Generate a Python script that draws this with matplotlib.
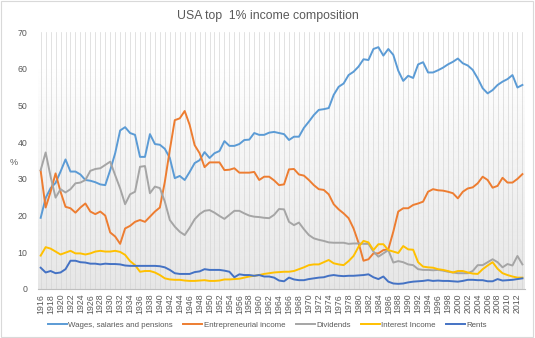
import numpy as np
import matplotlib
matplotlib.use('Agg')
import matplotlib.pyplot as plt
from matplotlib.patches import Rectangle

plt.rcParams['font.family'] = ['Liberation Sans', 'DejaVu Sans']

years = list(range(1916, 2014))

wages = [19.4, 24.8, 27.5, 28.9, 32.0, 35.3, 32.0, 32.0, 31.2, 29.7,
         29.5, 29.1, 28.5, 28.3, 32.4, 37.0, 43.2, 44.1, 42.5, 42.0,
         36.0, 36.0, 42.2, 39.5, 39.3, 38.2, 35.7, 30.2, 30.8, 29.7,
         31.9, 34.3, 35.1, 37.3, 35.7, 37.0, 37.6, 40.3, 39.0, 39.0,
         39.5, 40.6, 40.7, 42.5, 42.0, 42.0, 42.6, 42.8, 42.5, 42.2,
         40.6, 41.5, 41.5, 43.9, 45.6, 47.4, 48.8, 49.0, 49.3, 52.9,
         55.1, 56.0, 58.3, 59.2, 60.6, 62.6, 62.4, 65.4, 65.9, 63.6,
         65.4, 63.8, 59.5, 56.7, 58.1, 57.5, 61.2, 61.8, 59.0, 59.0,
         59.6, 60.3, 61.2, 61.9, 62.8, 61.5, 60.9, 59.7, 57.4, 54.7,
         53.3, 54.2, 55.6, 56.5, 57.2, 58.3, 54.9, 55.6]

entrepreneurial = [32.2, 22.2, 26.5, 31.5, 26.5, 22.4, 22.0, 20.8, 22.2, 23.3,
                   21.1, 20.4, 21.1, 20.0, 15.4, 14.3, 12.3, 16.5, 17.2, 18.3,
                   18.8, 18.3, 19.7, 21.1, 22.2, 29.2, 37.9, 46.0, 46.5, 48.5,
                   44.7, 39.2, 37.0, 33.2, 34.5, 34.5, 34.5, 32.4, 32.5, 32.9,
                   31.7, 31.7, 31.7, 31.9, 29.7, 30.6, 30.6, 29.6, 28.3, 28.5,
                   32.6, 32.7, 31.2, 30.9, 29.7, 28.3, 27.2, 27.0, 25.8, 23.1,
                   21.7, 20.6, 19.3, 16.5, 12.6, 7.7, 8.1, 9.7, 9.7, 10.6,
                   10.8, 15.6, 21.1, 22.0, 22.0, 22.9, 23.3, 23.8, 26.5, 27.2,
                   26.9, 26.8, 26.5, 26.1, 24.7, 26.5, 27.4, 27.7, 28.8, 30.6,
                   29.7, 27.6, 28.1, 30.3, 29.0, 29.0, 30.0, 31.3]

dividends = [32.4, 37.2, 30.6, 24.9, 27.2, 26.3, 27.2, 28.8, 29.0, 29.7,
             32.2, 32.7, 32.9, 33.8, 34.7, 31.0, 27.4, 23.1, 25.8, 26.5,
             33.3, 33.5, 26.1, 27.9, 27.5, 23.8, 18.8, 17.0, 15.6, 14.7,
             16.7, 19.0, 20.4, 21.3, 21.5, 20.8, 19.9, 19.1, 20.2, 21.3,
             21.3, 20.6, 20.0, 19.7, 19.6, 19.4, 19.3, 20.2, 21.8, 21.7,
             18.3, 17.4, 18.1, 16.3, 14.7, 13.8, 13.4, 13.1, 12.7, 12.6,
             12.6, 12.6, 12.3, 12.4, 12.4, 12.3, 12.3, 10.2, 8.8, 9.7,
             10.6, 7.2, 7.6, 7.3, 6.7, 6.5, 5.4, 5.2, 5.2, 5.1,
             5.2, 5.0, 4.7, 4.5, 4.3, 4.3, 4.3, 4.9, 6.5, 6.5,
             7.3, 8.1, 7.3, 5.9, 6.8, 6.4, 9.0, 6.7]

interest = [9.1, 11.4, 11.0, 10.2, 9.4, 9.9, 10.4, 9.7, 9.7, 9.4,
            9.7, 10.2, 10.4, 10.2, 10.2, 10.4, 10.1, 9.3, 7.6, 6.5,
            4.7, 4.9, 4.9, 4.5, 3.8, 2.9, 2.6, 2.5, 2.5, 2.3,
            2.2, 2.2, 2.3, 2.4, 2.2, 2.2, 2.3, 2.6, 2.6, 2.7,
            2.8, 3.1, 3.4, 3.6, 3.8, 4.1, 4.3, 4.5, 4.6, 4.7,
            4.7, 4.9, 5.4, 5.9, 6.5, 6.7, 6.7, 7.3, 7.9, 7.0,
            6.7, 6.5, 7.6, 9.0, 11.5, 13.1, 12.7, 10.6, 12.2, 12.2,
            10.6, 10.2, 9.8, 11.7, 10.8, 10.7, 7.3, 6.1, 5.9, 5.8,
            5.4, 5.2, 4.9, 4.5, 4.9, 4.9, 4.5, 4.2, 4.1, 5.4,
            6.4, 7.3, 5.5, 4.3, 3.8, 3.4, 3.1, 3.1]

rents = [5.8, 4.5, 4.9, 4.3, 4.5, 5.4, 7.7, 7.7, 7.3, 7.2,
         6.9, 6.9, 6.7, 6.9, 6.8, 6.8, 6.7, 6.4, 6.3, 6.3,
         6.3, 6.3, 6.3, 6.3, 6.2, 5.9, 5.2, 4.3, 4.1, 4.1,
         4.1, 4.6, 4.8, 5.4, 5.2, 5.2, 5.2, 5.0, 4.7, 3.2,
         4.0, 3.8, 3.8, 3.6, 3.8, 3.4, 3.4, 3.1, 2.3, 2.1,
         3.1, 2.6, 2.4, 2.4, 2.7, 2.9, 3.1, 3.2, 3.6, 3.8,
         3.6, 3.5, 3.6, 3.6, 3.7, 3.8, 4.0, 3.2, 2.7, 3.4,
         2.0, 1.5, 1.4, 1.5, 1.8, 2.0, 2.1, 2.2, 2.4, 2.2,
         2.3, 2.2, 2.2, 2.1, 2.0, 2.2, 2.5, 2.5, 2.4, 2.4,
         2.1, 2.1, 2.7, 2.3, 2.4, 2.5, 2.7, 2.9]

series = [
    ("Wages, salaries and pensions", wages, "#5B9BD5"),
    ("Entrepreneurial income", entrepreneurial, "#ED7D31"),
    ("Dividends", dividends, "#A5A5A5"),
    ("Interest Income", interest, "#FFC000"),
    ("Rents", rents, "#4472C4"),
]

fig = plt.figure(figsize=(5.35, 3.38), dpi=100)
fig.patches.append(Rectangle((0.002, 0.003), 0.995, 0.994, transform=fig.transFigure,
                             fill=False, edgecolor="#D9D9D9", linewidth=0.8))
ax = fig.add_axes([0.0714, 0.145, 0.9097, 0.76])

# plot area gradient: light gray at bottom, white at top
grad = np.linspace(0.90, 1.0, 256).reshape(-1, 1)
ax.imshow(grad, cmap="gray", vmin=0, vmax=1, aspect="auto", origin="lower",
          extent=[1915.5, 2013.5, 0, 62], zorder=0)

for y in years:
    ax.axvline(y, color="#D6D6D6", linewidth=0.5, zorder=1)

for name, vals, col in series:
    ax.plot(years, vals, color=col, linewidth=1.4, label=name, zorder=3)

ax.set_xlim(1915.5, 2013.5)
ax.set_ylim(0, 70)
ax.set_yticks(range(0, 71, 10))
ax.set_xticks(years[::2])
ax.set_xticklabels([str(y) for y in years[::2]], rotation=90)
ax.tick_params(axis="both", length=0, labelsize=6.3, colors="#595959")
ax.tick_params(axis="y", pad=8)
for s in ["top", "right", "left"]:
    ax.spines[s].set_visible(False)
ax.spines["bottom"].set_color("#BFBFBF")
ax.spines["bottom"].set_linewidth(0.8)

fig.text(0.025, 0.52, "%", fontsize=6.5, color="#595959", ha="center", va="center")
fig.text(0.5, 0.953, "USA top  1% income composition", fontsize=8.8, color="#595959",
         ha="center", va="center")

fig.legend(loc="center", bbox_to_anchor=(0.5, 0.037), ncol=5, frameon=False,
           fontsize=5.7, labelcolor="#595959", handlelength=2.4, columnspacing=1.3,
           handletextpad=0.2)

fig.savefig("out.png", dpi=100)
